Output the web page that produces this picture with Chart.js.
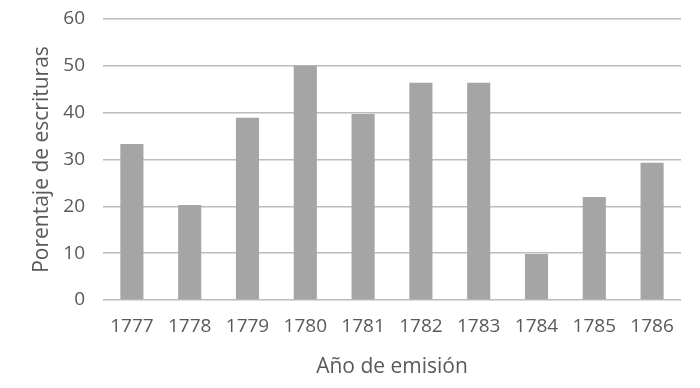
<!DOCTYPE html>
<html>
<head>
<meta charset="utf-8">
<script src="https://cdn.jsdelivr.net/npm/chart.js@4"></script>
<style>
  html, body { margin: 0; padding: 0; background: #fff; }
  #wrap { width: 700px; height: 388px; }
</style>
</head>
<body>
<div id="wrap"><canvas id="chart" width="700" height="388"></canvas></div>
<script>
const years = ['1777', '1778', '1779', '1780', '1781', '1782', '1783', '1784', '1785', '1786'];
const percentages = [33.3, 20.3, 38.9, 50, 39.7, 46.4, 46.4, 9.8, 22, 29.3];
const yTicks = [0, 10, 20, 30, 40, 50, 60];

const textColor = '#595959';
const fontFamily = '"Open Sans", "DejaVu Sans", sans-serif';

document.addEventListener('DOMContentLoaded', () => {
    const ctx = document.getElementById('chart').getContext('2d');
    new Chart(ctx, {
        type: 'bar',
        data: {
            labels: years,
            datasets: [{
                label: 'Porentaje de escrituras',
                data: percentages,
                backgroundColor: '#a5a5a5',
                borderWidth: 0,
                barPercentage: 0.4,
                categoryPercentage: 1
            }]
        },
        options: {
            responsive: false,
            animation: false,
            layout: { padding: { left: 0, right: 19, top: 19, bottom: 0 } },
            plugins: {
                legend: { display: false },
                tooltip: { enabled: false }
            },
            scales: {
                x: {
                    grid: { display: false, drawTicks: false },
                    border: { display: false },
                    ticks: {
                        color: textColor,
                        font: { family: fontFamily, size: 19 },
                        padding: 15,
                        maxRotation: 0
                    },
                    title: {
                        display: true,
                        text: 'Año de emisión',
                        color: textColor,
                        font: { family: fontFamily, size: 21 },
                        padding: { top: 0, bottom: 8 }
                    },
                    afterFit: (scale) => {
                        scale.height = 88;
                        scale.paddingLeft = 0;
                        scale.paddingRight = 0;
                    }
                },
                y: {
                    min: 0,
                    max: 60,
                    afterBuildTicks: (scale) => { scale.ticks = yTicks.map(v => ({ value: v })); },
                    grid: { color: '#bcbcbc', lineWidth: 1.5, drawTicks: false },
                    border: { display: false },
                    ticks: {
                        color: textColor,
                        font: { family: fontFamily, size: 19 },
                        padding: 18
                    },
                    title: {
                        display: true,
                        text: 'Porentaje de escrituras',
                        color: textColor,
                        font: { family: fontFamily, size: 21 },
                        padding: { top: 29, bottom: 0 }
                    },
                    afterFit: (scale) => {
                        scale.width = 103;
                        scale.paddingTop = 0;
                        scale.paddingBottom = 0;
                    }
                }
            }
        }
    });
});
</script>
</body>
</html>
